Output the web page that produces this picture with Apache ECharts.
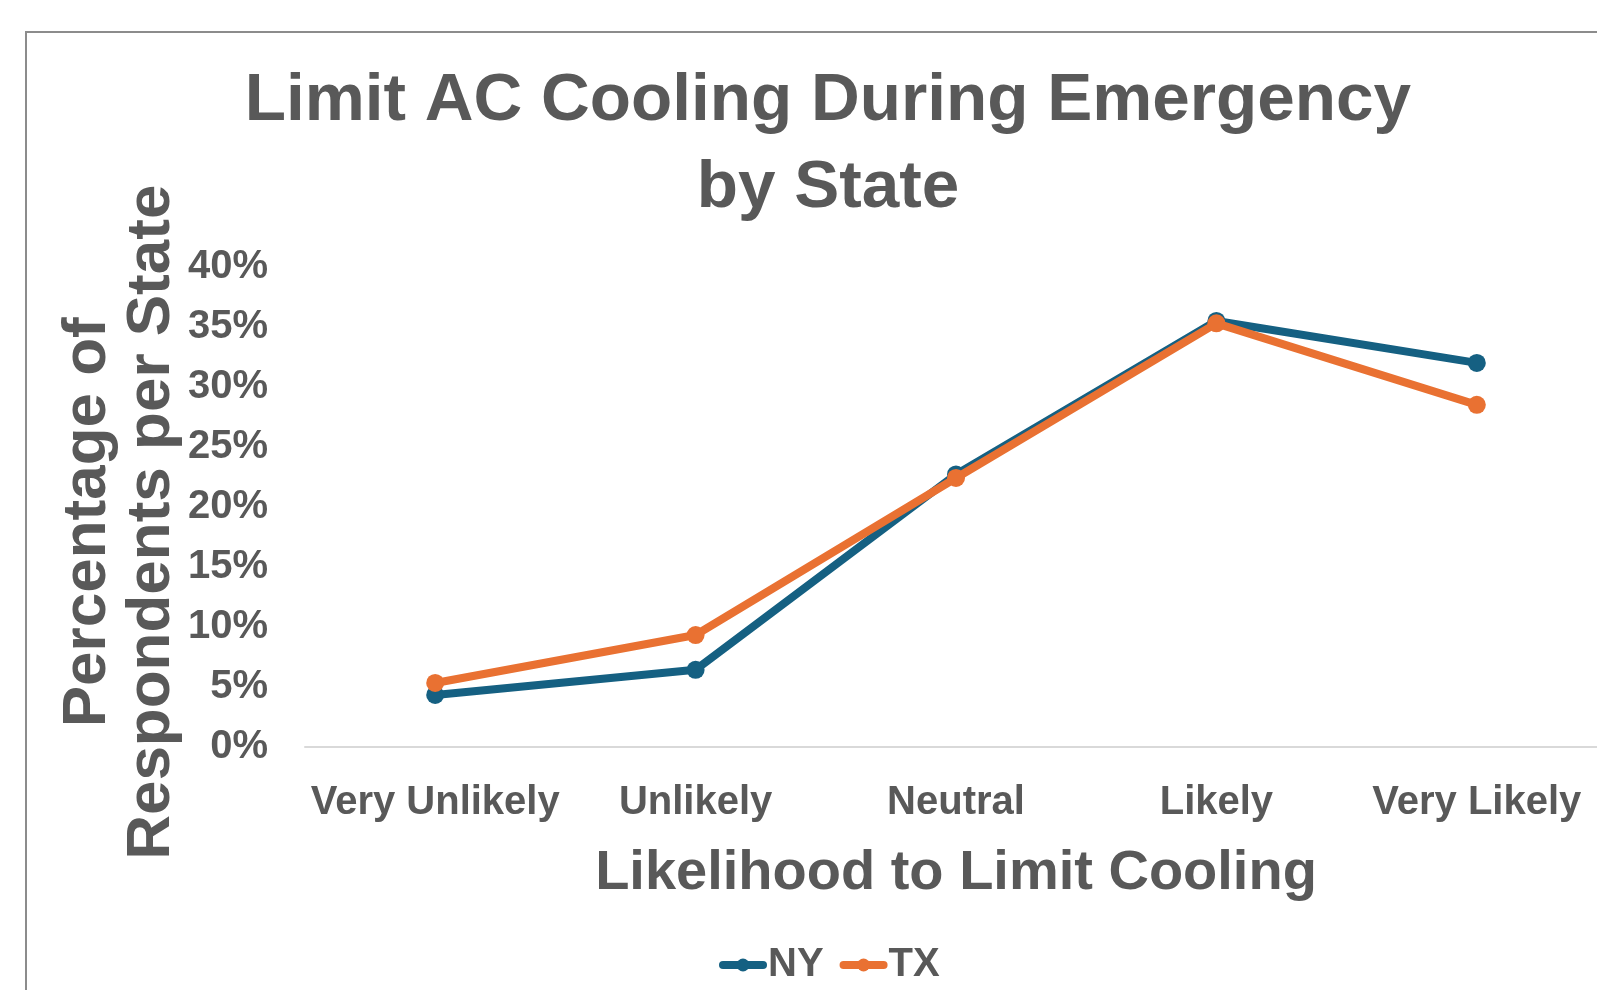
<!DOCTYPE html>
<html>
<head>
<meta charset="utf-8">
<script src="https://cdn.jsdelivr.net/npm/echarts@6/dist/echarts.min.js"></script>
<style>
html,body{margin:0;padding:0;background:#fff;}
#chart{width:1597px;height:990px;}
</style>
</head>
<body>
<div id="chart"></div>
<script>
const categories = ['Very Unlikely', 'Unlikely', 'Neutral', 'Likely', 'Very Likely'];
const seriesNames = ['NY', 'TX'];
const nyValues = [4.3, 6.4, 22.7, 35.5, 32.0];
const txValues = [5.3, 9.3, 22.4, 35.3, 28.5];
const titleText = 'Limit AC Cooling During Emergency\nby State';
const xAxisTitle = 'Likelihood to Limit Cooling';
const yAxisTitle = 'Percentage of\nRespondents per State';

const textColor = '#595959';
const font = '"Liberation Sans", Arial, sans-serif';
const chart = echarts.init(document.getElementById('chart'));
chart.setOption({
  animation: false,
  backgroundColor: '#ffffff',
  graphic: [{
    type: 'rect', z: -10, silent: true,
    shape: { x: 26, y: 32, width: 2000, height: 2000 },
    style: { fill: 'none', stroke: '#8c8c8c', lineWidth: 2 }
  }],
  title: {
    text: titleText,
    left: 828,
    textAlign: 'center',
    top: 58,
    padding: 0,
    textStyle: { fontFamily: font, fontSize: 67.5, fontWeight: 'bold', color: textColor, lineHeight: 87 }
  },
  legend: {
    data: seriesNames,
    left: 719,
    top: 945,
    padding: 0,
    itemWidth: 40,
    itemHeight: 16,
    itemGap: 16,
    lineStyle: { width: 8, cap: 'round' },
    textStyle: { fontFamily: font, fontSize: 40, fontWeight: 'bold', color: textColor }
  },
  grid: { left: 305, width: 1302, top: 267, bottom: 243.5, containLabel: false, outerBoundsMode: 'none' },
  xAxis: {
    type: 'category',
    data: categories,
    boundaryGap: true,
    axisLine: { lineStyle: { color: '#d9d9d9', width: 2 } },
    axisTick: { show: false },
    axisLabel: { interval: 0, fontFamily: font, fontSize: 40, fontWeight: 'bold', color: textColor, margin: 36 },
    name: xAxisTitle,
    nameLocation: 'middle',
    nameGap: 99,
    nameTextStyle: { fontFamily: font, fontSize: 56, fontWeight: 'bold', color: textColor }
  },
  yAxis: {
    type: 'value',
    min: 0, max: 40, interval: 5,
    axisLine: { show: false },
    axisTick: { show: false },
    splitLine: { show: false },
    axisLabel: { formatter: '{value}%', fontFamily: font, fontSize: 40, fontWeight: 'bold', color: textColor, margin: 37 },
    name: yAxisTitle,
    nameLocation: 'middle',
    nameGap: 121,
    nameMoveOverlap: false,
    nameTextStyle: { fontFamily: font, fontSize: 62, fontWeight: 'bold', color: textColor, lineHeight: 64, padding: [0, 31, 0, 0] }
  },
  series: [
    { name: 'NY', type: 'line', data: nyValues, symbol: 'circle', symbolSize: 18,
      itemStyle: { color: '#156082' }, lineStyle: { width: 8, color: '#156082' }, z: 2 },
    { name: 'TX', type: 'line', data: txValues, symbol: 'circle', symbolSize: 18,
      itemStyle: { color: '#E97132' }, lineStyle: { width: 8, color: '#E97132' }, z: 3 }
  ]
});
</script>
</body>
</html>
